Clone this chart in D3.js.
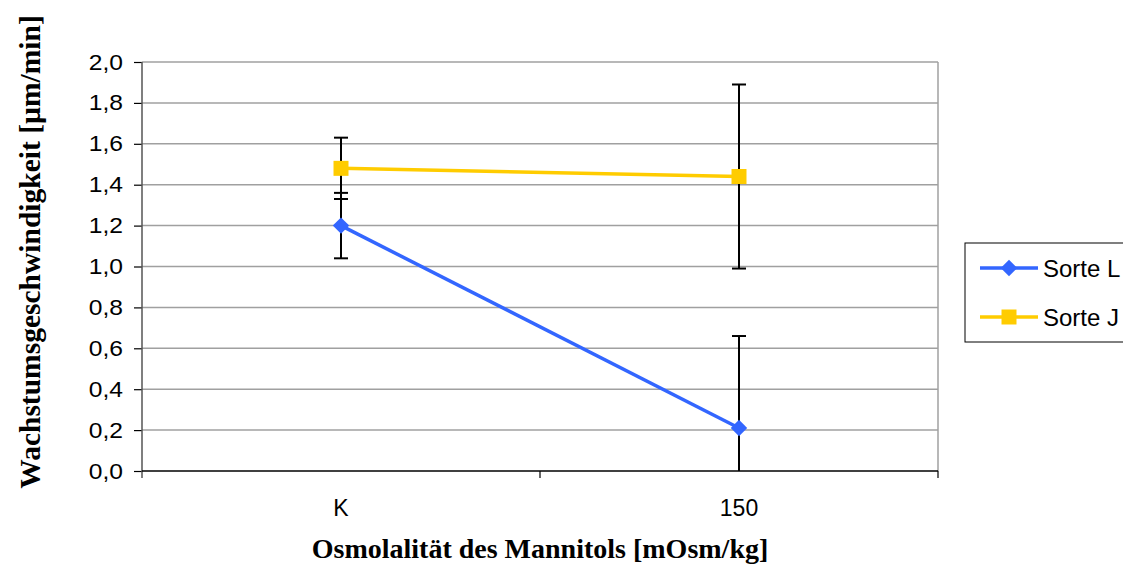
<!DOCTYPE html>
<html>
<head>
<meta charset="utf-8">
<title></title>
<style>
  body { margin: 0; background: white; }
  svg { display: block; }
  .ytick text { font-family: "Liberation Sans", Arial, sans-serif; font-size: 22px; fill: #000; }
  .xtick text { font-family: "Liberation Sans", Arial, sans-serif; font-size: 23px; fill: #000; }
  .titel { font-family: "Liberation Serif", "DejaVu Serif", serif; font-weight: bold; fill: #000; }
  .legende { font-family: "Liberation Sans", Arial, sans-serif; font-size: 24px; fill: #000; }
</style>
</head>
<body>
<div id="chart"></div>
<script src="https://cdnjs.cloudflare.com/ajax/libs/d3/7.8.5/d3.min.js"></script>
<script>
// Daten
var kategorien = ["K", "150"];
var serienNamen = ["Sorte L", "Sorte J"];
var sorteL = [1.2, 0.21];
var sorteLFehler = [0.16, 0.45];
var sorteJ = [1.48, 1.44];
var sorteJFehler = [0.15, 0.45];
var yTicks = [0, 0.2, 0.4, 0.6, 0.8, 1.0, 1.2, 1.4, 1.6, 1.8, 2.0];

// Raute als gedrehtes Quadrat
var raute = {
  draw: function(context, size) {
    var r = Math.sqrt(size / 2);
    context.moveTo(0, -r);
    context.lineTo(r, 0);
    context.lineTo(0, r);
    context.lineTo(-r, 0);
    context.closePath();
  }
};

var farben = ["#3366ff", "#ffcc00"];
var serien = [
  { name: serienNamen[0], werte: sorteL, fehler: sorteLFehler, farbe: farben[0], symbol: raute, groesse: 135 },
  { name: serienNamen[1], werte: sorteJ, fehler: sorteJFehler, farbe: farben[1], symbol: d3.symbolSquare, groesse: 225 }
];

var fullWidth = 1123, fullHeight = 564;
var margin = { left: 142, top: 62, right: 185, bottom: 93 };
var width = fullWidth - margin.left - margin.right;   // 796
var height = fullHeight - margin.top - margin.bottom; // 409

var svg = d3.select("#chart").append("svg")
  .attr("width", fullWidth).attr("height", fullHeight);

var g = svg.append("g")
  .attr("transform", "translate(" + margin.left + "," + margin.top + ")");

var xScale = d3.scaleBand().domain(kategorien).range([0, width]);
var yScale = d3.scaleLinear().domain([0, 2]).range([height, 0]);

// Gitterlinien
g.selectAll(".grid").data(yTicks.slice(1)).enter().append("line")
  .attr("x1", 0).attr("x2", width)
  .attr("y1", function(d) { return yScale(d); })
  .attr("y2", function(d) { return yScale(d); })
  .attr("stroke", "#a0a0a0").attr("stroke-width", 1.5);

// rechter Rand
g.append("line")
  .attr("x1", width).attr("x2", width).attr("y1", 0).attr("y2", height)
  .attr("stroke", "#a0a0a0").attr("stroke-width", 1.5);

// Y-Achse
var streckung = 1.12;
var yAxis = d3.axisLeft(yScale).tickValues(yTicks).tickSize(8)
  .tickFormat(function(d) { return d3.format(".1f")(d).replace(".", ","); });
var yg = g.append("g").attr("class", "ytick").call(yAxis);
yg.attr("font-size", null).attr("font-family", null);
yg.select(".domain").remove();
yg.selectAll(".tick line").attr("stroke", "#000").attr("stroke-width", 1.2);
yg.selectAll(".tick text")
  .attr("x", -19 / streckung)
  .attr("transform", "scale(" + streckung + ",1)");
g.append("line").attr("x1", 0).attr("x2", 0).attr("y1", 0).attr("y2", height + 7)
  .attr("stroke", "#555").attr("stroke-width", 1.5);

// X-Achse
var xAxis = d3.axisBottom(xScale).tickSize(0);
var xg = g.append("g").attr("class", "xtick")
  .attr("transform", "translate(0," + height + ")").call(xAxis);
xg.attr("font-size", null).attr("font-family", null);
xg.select(".domain").remove();
xg.selectAll(".tick text").attr("y", 45).attr("dy", 0);
g.append("line").attr("x1", 0).attr("x2", width).attr("y1", height).attr("y2", height)
  .attr("stroke", "#000").attr("stroke-width", 1.5);
var grenzen = kategorien.map(function(k) { return xScale(k); }).concat([width]);
g.selectAll(".xstrich").data(grenzen.slice(1)).enter().append("line")
  .attr("x1", function(d) { return d; }).attr("x2", function(d) { return d; })
  .attr("y1", height).attr("y2", height + 7)
  .attr("stroke", "#000").attr("stroke-width", 1.2);

function xMitte(k) { return xScale(k) + xScale.bandwidth() / 2; }

// Fehlerbalken
serien.forEach(function(s) {
  kategorien.forEach(function(k, i) {
    var oben = s.werte[i] + s.fehler[i];
    var unten = Math.max(0, s.werte[i] - s.fehler[i]);
    var x = xMitte(k);
    g.append("line").attr("x1", x).attr("x2", x)
      .attr("y1", yScale(oben)).attr("y2", yScale(unten))
      .attr("stroke", "#000").attr("stroke-width", 2);
    g.append("line").attr("x1", x - 7).attr("x2", x + 7)
      .attr("y1", yScale(oben)).attr("y2", yScale(oben))
      .attr("stroke", "#000").attr("stroke-width", 2);
    if (s.werte[i] - s.fehler[i] >= 0) {
      g.append("line").attr("x1", x - 7).attr("x2", x + 7)
        .attr("y1", yScale(unten)).attr("y2", yScale(unten))
        .attr("stroke", "#000").attr("stroke-width", 2);
    }
  });
});

// Linien und Symbole
var linie = d3.line()
  .x(function(d, i) { return xMitte(kategorien[i]); })
  .y(function(d) { return yScale(d); });

serien.forEach(function(s) {
  g.append("path").datum(s.werte)
    .attr("d", linie).attr("fill", "none")
    .attr("stroke", s.farbe).attr("stroke-width", 3.5);
  g.selectAll(null).data(s.werte).enter().append("path")
    .attr("d", d3.symbol().type(s.symbol).size(s.groesse))
    .attr("transform", function(d, i) {
      return "translate(" + xMitte(kategorien[i]) + "," + yScale(d) + ")";
    })
    .attr("fill", s.farbe);
});

// Achsentitel
svg.append("text").attr("class", "titel")
  .attr("text-anchor", "middle")
  .attr("font-size", "29.5px")
  .attr("transform", "translate(40,252) rotate(-90)")
  .text("Wachstumsgeschwindigkeit [µm/min]");

svg.append("text").attr("class", "titel")
  .attr("text-anchor", "middle")
  .attr("font-size", "28px")
  .attr("x", margin.left + width / 2).attr("y", 558)
  .text("Osmolalität des Mannitols [mOsm/kg]");

// Legende
var leg = svg.append("g").attr("transform", "translate(965,243)");
leg.append("rect").attr("x", 0).attr("y", 0).attr("width", 170).attr("height", 99)
  .attr("fill", "white").attr("stroke", "#000").attr("stroke-width", 1);
serien.forEach(function(s, i) {
  var y = 25 + i * 49;
  leg.append("line").attr("x1", 15).attr("x2", 73).attr("y1", y).attr("y2", y)
    .attr("stroke", s.farbe).attr("stroke-width", 3.5);
  leg.append("path")
    .attr("d", d3.symbol().type(s.symbol).size(s.groesse))
    .attr("transform", "translate(44," + y + ")")
    .attr("fill", s.farbe);
  leg.append("text").attr("class", "legende")
    .attr("x", 78).attr("y", y + 8.5).text(s.name);
});
</script>
</body>
</html>
